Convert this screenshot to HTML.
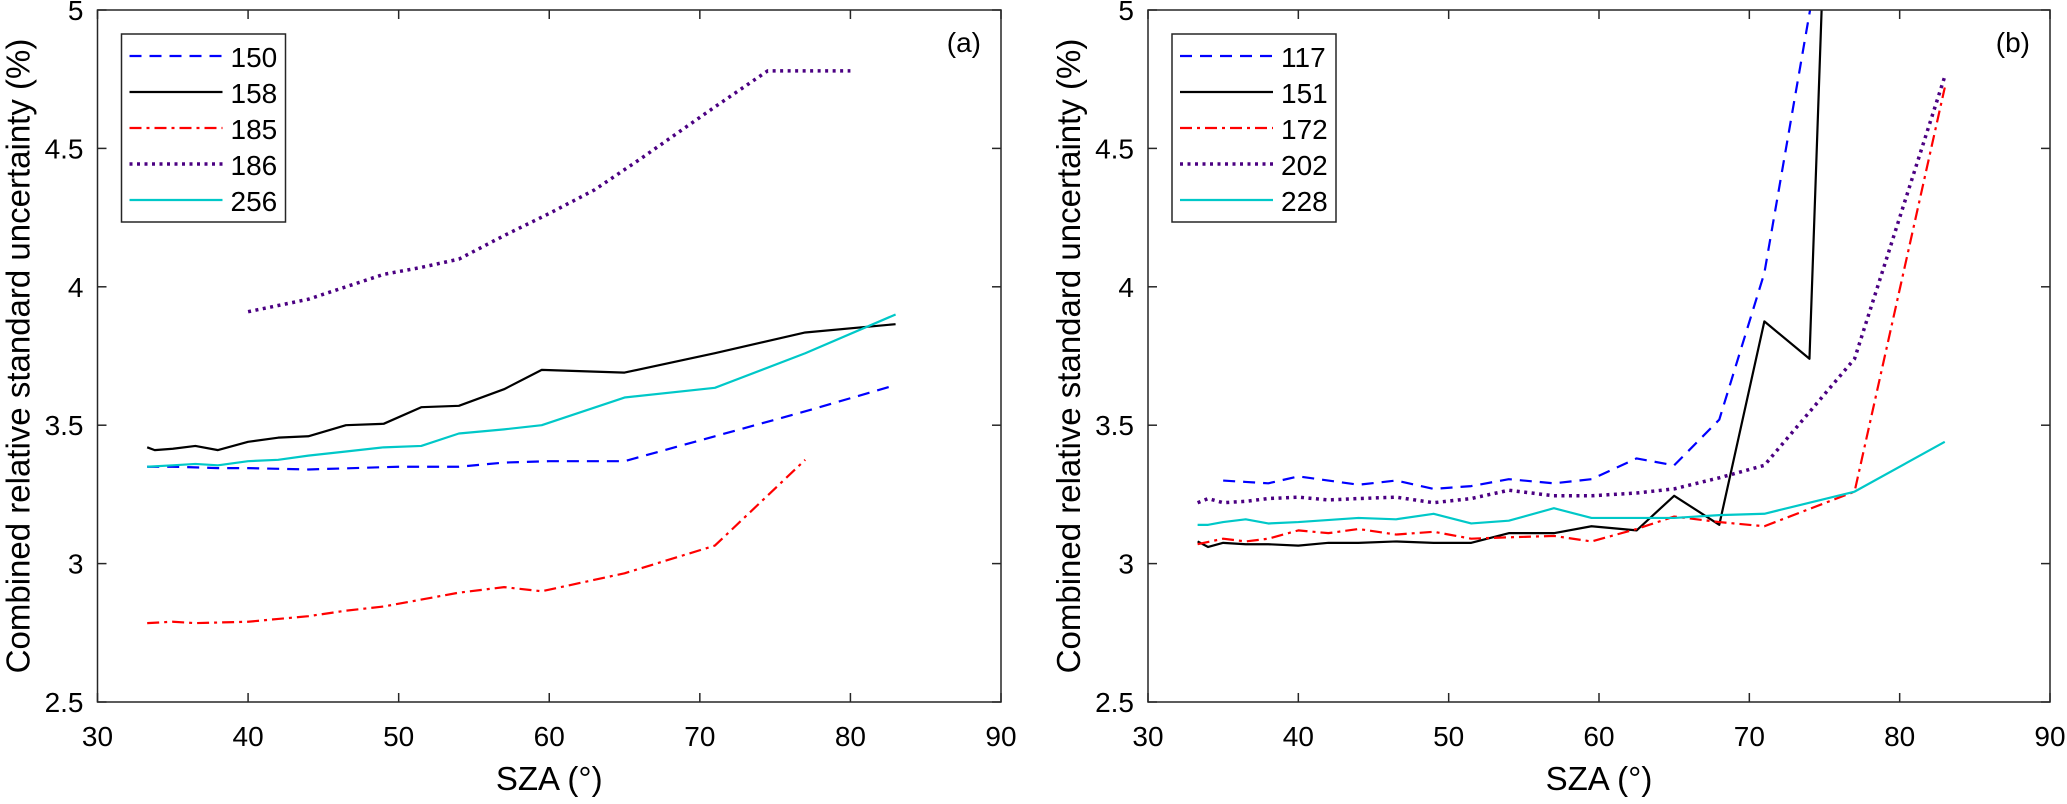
<!DOCTYPE html>
<html><head><meta charset="utf-8"><style>
body{margin:0;background:#fff}
svg text{font-family:"Liberation Sans",Arial,sans-serif;fill:#000}
</style></head><body>
<svg id="chart" width="2067" height="799" viewBox="0 0 2067 799" xmlns="http://www.w3.org/2000/svg"></svg>
<script>
const xTicks=[30,40,50,60,70,80,90];
const yTicks=[2.5,3,3.5,4,4.5,5];
const yTickLabels=["2.5","3","3.5","4","4.5","5"];
// Panel (a)
const aNames=["150","158","185","186","256"];
const a150x=[33.3,35,38,40,44,50,54,57,60,65,71,77,83];
const a150y=[3.35,3.35,3.345,3.345,3.34,3.35,3.35,3.365,3.37,3.37,3.46,3.55,3.645];
const a158x=[33.3,33.8,35,36.5,38,40,42,44,46.5,49,51.5,54,57,59.5,65,71,77,83];
const a158y=[3.42,3.41,3.415,3.425,3.41,3.44,3.455,3.46,3.5,3.505,3.565,3.57,3.63,3.7,3.69,3.76,3.835,3.865];
const a185x=[33.3,35,36.5,40,42,44,46.5,49,51.5,54,57,59.5,65,71,77];
const a185y=[2.785,2.79,2.785,2.79,2.8,2.81,2.83,2.845,2.87,2.895,2.915,2.9,2.965,3.065,3.375];
const a186x=[40,44,49,51.5,54,57,60,63,66,71,74.5,80];
const a186y=[3.91,3.955,4.045,4.07,4.1,4.185,4.265,4.35,4.46,4.65,4.78,4.78];
const a256x=[33.3,35,36.5,38,40,42,44,46.5,49,51.5,54,57,59.5,65,71,77,83];
const a256y=[3.35,3.355,3.36,3.355,3.37,3.375,3.39,3.405,3.42,3.425,3.47,3.485,3.5,3.6,3.635,3.76,3.9];
// Panel (b)
const bNames=["117","151","172","202","228"];
const b117x=[35,36.5,38,40,42,44,46.5,49,51.5,54,57,59.5,62.5,65,68,71,75];
const b117y=[3.3,3.295,3.29,3.315,3.3,3.285,3.3,3.27,3.28,3.305,3.29,3.305,3.38,3.355,3.52,4.05,5.3];
const b151x=[33.3,34,35,36.5,38,40,42,44,46.5,49,51.5,54,57,59.5,62.5,65,68,71,74,75];
const b151y=[3.08,3.06,3.075,3.07,3.07,3.065,3.075,3.075,3.08,3.075,3.075,3.11,3.11,3.135,3.12,3.245,3.14,3.875,3.74,5.3];
const b172x=[33.3,35,36.5,38,40,42,44,46.5,49,51.5,54,57,59.5,62.5,65,68,71,77,83];
const b172y=[3.07,3.09,3.08,3.09,3.12,3.11,3.125,3.105,3.115,3.09,3.095,3.1,3.08,3.125,3.17,3.15,3.135,3.26,4.72];
const b202x=[33.3,34,35,36.5,38,40,42,44,46.5,49,51.5,54,57,59.5,62.5,65,68,71,77,83];
const b202y=[3.22,3.235,3.22,3.225,3.235,3.24,3.23,3.235,3.24,3.22,3.235,3.265,3.245,3.245,3.255,3.27,3.31,3.355,3.74,4.76];
const b228x=[33.3,34,35,36.5,38,40,44,46.5,49,51.5,54,57,59.5,62.5,65,68,71,77,83];
const b228y=[3.14,3.14,3.15,3.16,3.145,3.15,3.165,3.16,3.18,3.145,3.155,3.2,3.165,3.165,3.165,3.175,3.18,3.26,3.44];

const NS="http://www.w3.org/2000/svg";
const svg=document.getElementById('chart');
function mk(tag,attrs,parent){const e=document.createElementNS(NS,tag);for(const k in attrs)e.setAttribute(k,attrs[k]);(parent||svg).appendChild(e);return e;}
const styles=[
 {c:"#0000ff",d:"12,8"},
 {c:"#000000",d:""},
 {c:"#ff0000",d:"12,5,3,5"},
 {c:"#4b0082",d:"3,4.5",w:3.5},
 {c:"#00c8c8",d:""}
];
const T=10,B=702,X0=30,X1=90,Y0=2.5,Y1=5;
function panel(L,R,letter,names,xs,ys,tag){
  const g=mk('g',{});
  
  
  const sx=v=>L+(v-X0)/(X1-X0)*(R-L);
  const sy=v=>B-(v-Y0)/(Y1-Y0)*(B-T);
  const cid='clip-'+tag;
  const cp=mk('clipPath',{id:cid},g);mk('rect',{x:L,y:T,width:R-L,height:B-T},cp);
  xTicks.forEach(t=>{
    const x=sx(t);
    mk('line',{x1:x,x2:x,y1:B,y2:B-9,stroke:'#262626','stroke-width':1.5},g);
    mk('line',{x1:x,x2:x,y1:T,y2:T+9,stroke:'#262626','stroke-width':1.5},g);
    const tx=mk('text',{x:x,y:746,'font-size':28,'text-anchor':'middle'},g);tx.textContent=t;
    
  });
  yTicks.forEach((t,i)=>{
    const y=sy(t);
    mk('line',{x1:L,x2:L+9,y1:y,y2:y,stroke:'#262626','stroke-width':1.5},g);
    mk('line',{x1:R,x2:R-9,y1:y,y2:y,stroke:'#262626','stroke-width':1.5},g);
    const tx=mk('text',{x:L-14,y:y+10,'font-size':28,'text-anchor':'end'},g);tx.textContent=yTickLabels[i];
    
  });
  const ser=mk('g',{'clip-path':'url(#'+cid+')'},g);
  xs.forEach((xa,i)=>{
    const st=styles[i];
    const p=mk('polyline',{points:xa.map((x,j)=>sx(x)+','+sy(ys[i][j])).join(' '),fill:'none',stroke:st.c,'stroke-width':st.w||2.2,'stroke-dasharray':st.d,'stroke-linejoin':'round'},ser);
    
    
  });
  mk('rect',{x:L,y:T,width:R-L,height:B-T,fill:'none',stroke:'#262626','stroke-width':1.5},g);
  const xt=mk('text',{x:(L+R)/2,y:790,'font-size':33,'text-anchor':'middle'},g);xt.textContent='SZA (°)';
  
  const yx=L-68;
  const yt=mk('text',{x:yx,y:(T+B)/2,'font-size':33,'text-anchor':'middle',transform:`rotate(-90 ${yx} ${(T+B)/2})`},g);
  yt.textContent='Combined relative standard uncertainty (%)';
  
  const pl=mk('text',{x:R-20,y:52,'font-size':28,'text-anchor':'end'},g);pl.textContent=letter;
  
  // legend
  const lg=mk('g',{},g);
  
  
  const lx=L+24;
  mk('rect',{x:lx,y:34,width:164,height:188,fill:'#fff',stroke:'#262626','stroke-width':1.5},lg);
  names.forEach((n,i)=>{
    const st=styles[i];const y=56+i*36;
    const ln=mk('line',{x1:lx+8,x2:lx+101,y1:y,y2:y,stroke:st.c,'stroke-width':st.w||2.2,'stroke-dasharray':st.d},lg);
    
    const t=mk('text',{x:lx+109,y:y+11,'font-size':28},lg);t.textContent=n;
    
  });
}
panel(97.5,1001,'(a)',aNames,[a150x,a158x,a185x,a186x,a256x],[a150y,a158y,a185y,a186y,a256y],'a');
panel(1148,2050,'(b)',bNames,[b117x,b151x,b172x,b202x,b228x],[b117y,b151y,b172y,b202y,b228y],'b');
</script>
</body></html>
